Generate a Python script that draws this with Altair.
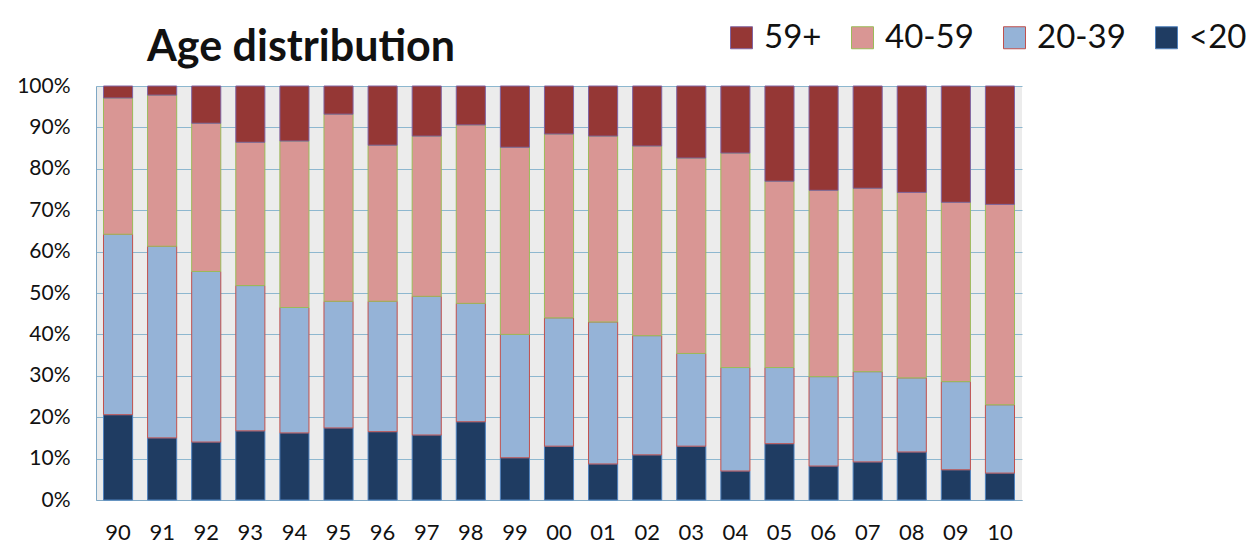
import altair as alt
import pandas as pd

years = ["90", "91", "92", "93", "94", "95", "96", "97", "98", "99", "00",
         "01", "02", "03", "04", "05", "06", "07", "08", "09", "10"]
groups = ["59+", "40-59", "20-39", "<20"]
fills = ["#953735", "#d99694", "#95b3d7", "#1f3c62"]
strokes = ["#8064a2", "#9bbb59", "#c0504d", "#4f81bd"]

under20 = [20.6, 15.0, 14.0, 16.7, 16.2, 17.4, 16.5, 15.7, 18.9, 10.2, 13.0,
           8.7, 10.9, 13.0, 7.0, 13.6, 8.2, 9.2, 11.6, 7.3, 6.5]
age20_39 = [43.6, 46.3, 41.2, 35.1, 30.3, 30.6, 31.5, 33.5, 28.6, 29.8, 31.0,
            34.3, 28.8, 22.4, 25.0, 18.4, 21.6, 21.8, 17.9, 21.3, 16.5]
age40_59 = [32.9, 36.5, 35.8, 34.6, 40.2, 45.2, 37.7, 38.7, 43.1, 45.2, 44.4,
            44.9, 45.8, 47.2, 51.8, 45.0, 45.0, 44.3, 44.8, 43.3, 48.4]
age59p = [2.9, 2.2, 9.0, 13.6, 13.3, 6.8, 14.3, 12.1, 9.4, 14.8, 11.6,
          12.1, 14.5, 17.4, 16.2, 23.0, 25.2, 24.7, 25.7, 28.1, 28.6]

title_text = ["Age distribution"]

series = {"<20": under20, "20-39": age20_39, "40-59": age40_59, "59+": age59p}
stack_order = {"<20": 0, "20-39": 1, "40-59": 2, "59+": 3}

rows = []
for g, vals in series.items():
    for y, v in zip(years, vals):
        rows.append({"year": y, "group": g, "value": v, "ord": stack_order[g]})
df = pd.DataFrame(rows)

FONT = "Lato"

bars = alt.Chart(df).mark_bar(strokeWidth=1).encode(
    x=alt.X("year:N", sort=years, title=None,
            scale=alt.Scale(paddingInner=0.34, paddingOuter=0.17),
            axis=alt.Axis(labelAngle=0, labelFontSize=22, labelFont=FONT,
                          labelColor="#111111", ticks=False, labelPadding=22,
                          domainColor="#7fa7c4", grid=False)),
    y=alt.Y("value:Q", stack="normalize", title=None,
            scale=alt.Scale(domain=[0, 1], nice=False),
            axis=alt.Axis(format=".0%", values=[i / 10 for i in range(11)],
                          labelFontSize=21, labelFont=FONT, labelColor="#111111",
                          ticks=False, labelPadding=26, domainColor="#7fa7c4",
                          gridColor="#8db7cf", gridWidth=1)),
    fill=alt.Fill("group:N",
                  scale=alt.Scale(domain=groups, range=fills),
                  legend=alt.Legend(title=None, orient="none", direction="horizontal",
                                    legendX=629, legendY=-65,
                                    symbolType="square", symbolSize=484,
                                    symbolStrokeWidth=1, symbolOpacity=1,
                                    labelFontSize=33, labelFont=FONT,
                                    labelColor="#111111", labelOffset=6,
                                    columnPadding=24, labelLimit=300, padding=0)),
    stroke=alt.Stroke("group:N", scale=alt.Scale(domain=groups, range=strokes)),
    order=alt.Order("ord:Q", sort="ascending"),
)

title = alt.Chart(pd.DataFrame({"t": title_text})).mark_text(
    align="left", baseline="alphabetic", fontSize=43, font=FONT,
    fontWeight="bold", color="#111111"
).encode(text="t:N", x=alt.value(51), y=alt.value(-25))

chart = alt.layer(bars, title).properties(
    width=926,
    height=414,
    autosize=alt.AutoSizeParams(type="none"),
    padding={"left": 88, "top": 78, "right": 224, "bottom": 45},
).configure_view(fill="#ececec", strokeWidth=0)

chart.save("out.html", embed_options={"renderer": "svg", "actions": False})
